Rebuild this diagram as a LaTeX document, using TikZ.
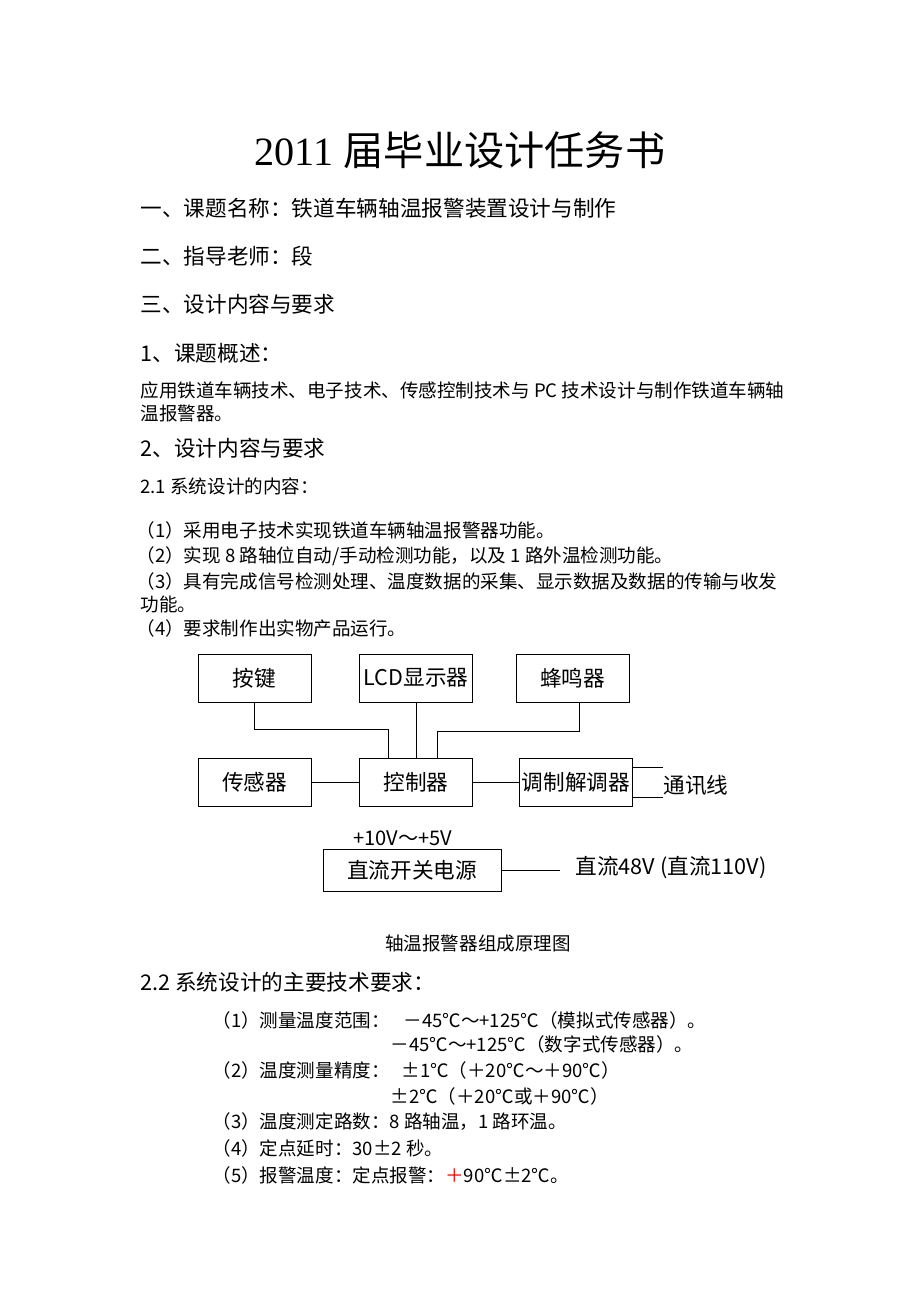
\documentclass[tikz,border=0pt]{standalone}
\usepackage{fontspec}
\setmainfont{Liberation Serif}
\newfontfamily\cjk{Noto Sans CJK SC}
\begin{document}
\begin{tikzpicture}[x=0.647pt, y=-0.647pt, line width=0.6pt,
        txt/.style={anchor=west, inner sep=0pt, font=\fontsize{12pt}{14pt}\cjk},
        head/.style={anchor=west, inner sep=0pt, font=\fontsize{14pt}{17pt}\cjk},
        blk/.style={draw, inner sep=0pt, minimum width=73.1pt, minimum height=31.1pt, font=\fontsize{14pt}{17pt}\cjk}]
        \fill[white] (0,0) rectangle (920,1302);
        \node (title) [font=\fontsize{26pt}{31pt}\cjk] at (460,150) {{\rmfamily 2011 }届毕业设计任务书};
        \node (h1) [head] at (140,208) {一、课题名称：铁道车辆轴温报警装置设计与制作};
        \node (h2) [head] at (140,256) {二、指导老师：段};
        \node (h3) [head] at (140,304) {三、设计内容与要求};
        \node (h4) [head] at (140,353) {1、课题概述：};
        \node (p1) [txt] at (140,390) {应用铁道车辆技术、电子技术、传感控制技术与 PC 技术设计与制作铁道车辆轴};
        \node (p2) [txt] at (140,413) {温报警器。};
        \node (h5) [head] at (140,448) {2、设计内容与要求};
        \node (s1) [txt] at (140,486) {2.1 系统设计的内容：};
        \node (i1) [txt] at (136,530) {（1）采用电子技术实现铁道车辆轴温报警器功能。};
        \node (i2) [txt] at (136,556) {（2）实现 8 路轴位自动/手动检测功能，以及 1 路外温检测功能。};
        \node (i3) [txt] at (136,581) {（3）具有完成信号检测处理、温度数据的采集、显示数据及数据的传输与收发};
        \node (i3b) [txt] at (140,604) {功能。};
        \node (i4) [txt] at (136,628) {（4）要求制作出实物产品运行。};

        % block diagram
        \node (key) [blk] at (254.5,678) {按键};
        \node (lcd) [blk] at (416,678) {LCD显示器};
        \node (buz) [blk] at (572.5,678) {蜂鸣器};
        \node (sen) [blk] at (254.5,782.5) {传感器};
        \node (ctl) [blk] at (416,782.5) {控制器};
        \node (mod) [blk] at (576,782.5) {调制解调器};
        \node (com) [head] at (663,785) {通讯线};
        \node (psu) [blk, minimum width=115.2pt, minimum height=27.2pt] at (412,870) {直流开关电源};
        \node (volt) [head, font=\fontsize{13pt}{15pt}\cjk] at (353,838) {+10V～+5V};
        \node (dc) [head] at (575,868) {直流48V (直流110V)};
        \draw (key.south) -- ++(0,27) -| ([xshift=-17.5pt]ctl.north);
        \draw (lcd) -- (ctl);
        \draw ([xshift=4.2pt]buz.south) -- ++(0,29) -| ([xshift=13.6pt]ctl.north);
        \draw (sen) -- (ctl);
        \draw (ctl) -- (mod);
        \draw ([yshift=9.7pt]mod.east) -- ([yshift=9.7pt]mod.east -| com.west);
        \draw ([yshift=-9.7pt]mod.east) -- ([yshift=-9.7pt]mod.east -| com.west);
        \draw (psu.east) -- ([xshift=-9.7pt]dc.west |- psu.east);
        \node (cap) [font=\fontsize{12pt}{14pt}\cjk] at (478,943) {轴温报警器组成原理图};

        \node (h6) [head] at (140,982) {2.2 系统设计的主要技术要求：};
        \node (r1) [txt] at (212,1020) {（1）测量温度范围：};
        \node (v1) [txt] at (403,1020) {－45℃～+125℃（模拟式传感器）。};
        \node (v1b) [txt] at (390,1044) {－45℃～+125℃（数字式传感器）。};
        \node (r2) [txt] at (212,1070) {（2）温度测量精度：};
        \node (v2) [txt] at (401,1070) {±1℃（＋20℃～＋90℃）};
        \node (v2b) [txt] at (390,1096) {±2℃（＋20℃或＋90℃）};
        \node (r3) [txt] at (212,1122) {（3）温度测定路数：8 路轴温，1 路环温。};
        \node (r4) [txt] at (212,1148) {（4）定点延时：30±2 秒。};
        \node (r5) [txt] at (212,1175) {（5）报警温度：定点报警：\textcolor{red}{＋}90℃±2℃。};
\end{tikzpicture}
\end{document}
